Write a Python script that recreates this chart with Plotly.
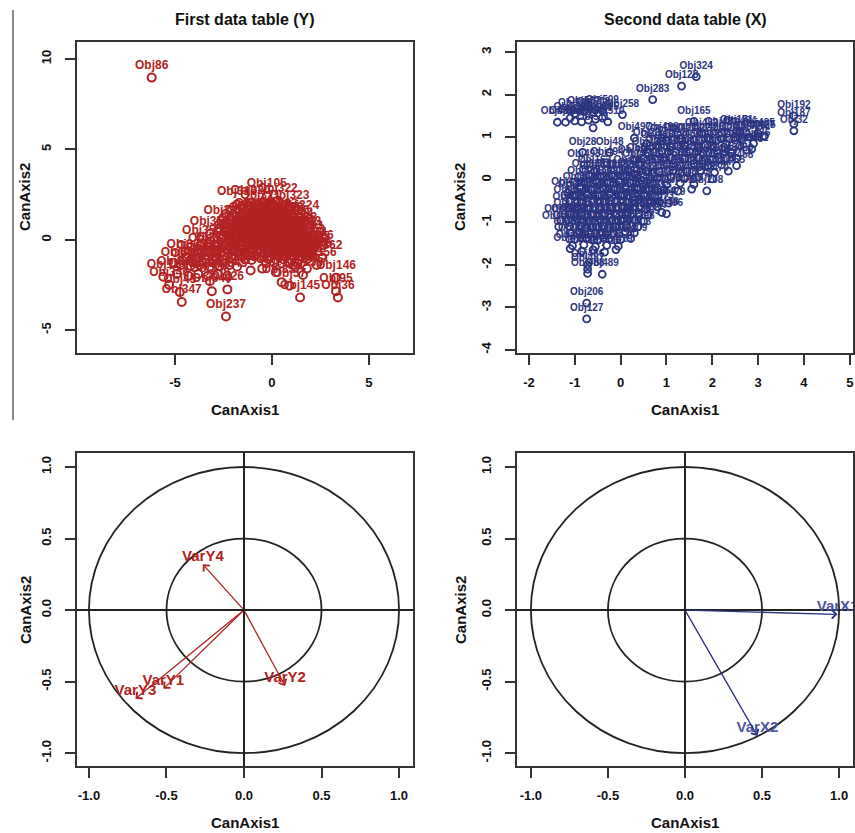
import plotly.graph_objects as go

RED = "#B22222"
BLUE = "#2B3480"
FONT = "Liberation Sans, Arial, sans-serif"

# ---------------- First data table (Y) ----------------
red_named_lab = ["Obj86", "Obj105", "Obj237", "Obj146", "Obj95", "Obj36", "Obj145", "Obj26", "Obj45", "Obj12", "Obj57"]
red_named_x = [-6.2, -0.27, -2.37, 3.3, 3.3, 3.4, 1.45, -2.3, -4.75, -5.6, 0.9]
red_named_y = [8.97, 2.42, -4.25, -2.1, -2.85, -3.2, -3.2, -2.75, -2.9, -2.05, -2.55]

red_x = [
    -0.9, -0.5, -0.1, 0.3,
    -1.2, -0.8, -0.4, 0.0, 0.4, 0.6,
    -1.4, -1.0, -0.6, -0.2, 0.2, 0.6, 0.9,
    -1.6, -1.2, -0.8, -0.4, 0.0, 0.4, 0.8, 1.1,
    -1.75, -1.35, -0.95, -0.55, -0.15, 0.25, 0.65, 1.05, 1.3,
    -1.85, -1.45, -1.05, -0.65, -0.25, 0.15, 0.55, 0.95, 1.3, 1.5,
    -1.95, -1.55, -1.15, -0.75, -0.35, 0.05, 0.45, 0.85, 1.25, 1.6,
    -2.0, -1.6, -1.2, -0.8, -0.4, 0.0, 0.4, 0.8, 1.2, 1.7,
    -2.0, -1.6, -1.2, -0.8, -0.4, 0.0, 0.4, 0.8, 1.2, 1.55, 1.8,
    -1.9, -1.5, -1.1, -0.7, -0.3, 0.1, 0.5, 0.9, 1.3, 1.65, 1.9,
    -1.8, -1.4, -1.0, -0.6, -0.2, 0.2, 0.6, 1.0, 1.4, 1.75, 2.0,
    -1.6, -1.2, -0.1, 0.3, 0.7, 1.1, 1.5, 1.85, 2.1,
    -1.4, -1.05, -0.2, 0.2, 0.6, 1.0, 1.4, 1.8,
    -0.3, 0.1, 0.5, 0.9, 1.3,
    -1.8, -1.1, -0.6, 0.3, 0.9, 1.4, -2.5, 2.15,
    -4.4, -3.9, -3.4, -2.9, -2.5, -2.1,
    -4.7, -4.2, -3.7, -3.2, -2.7, -2.2, -1.8,
    -4.9, -4.3, -3.8, -3.3, -2.8, -2.3,
    -5.3, -4.65, -3.2, -3.1, -3.6, -3.2, -2.9, -3.3,
    1.2, 1.8, 2.3, 0.5, 1.6, 0.2, -0.5, -1.1, 2.6,
]
red_y = [
    1.3, 1.33, 1.28, 1.31,
    1.1, 1.13, 1.08, 1.12, 1.09, 1.11,
    0.9, 0.92, 0.88, 0.91, 0.89, 0.93, 0.9,
    0.7, 0.68, 0.72, 0.69, 0.71, 0.73, 0.67, 0.7,
    0.5, 0.52, 0.48, 0.51, 0.49, 0.53, 0.47, 0.5, 0.52,
    0.3, 0.28, 0.32, 0.29, 0.31, 0.27, 0.33, 0.3, 0.28, 0.31,
    0.1, 0.12, 0.08, 0.11, 0.09, 0.13, 0.07, 0.1, 0.12, 0.09,
    -0.1, -0.08, -0.12, -0.09, -0.11, -0.07, -0.13, -0.1, -0.08, -0.11,
    -0.3, -0.32, -0.28, -0.31, -0.29, -0.33, -0.27, -0.3, -0.32, -0.29, -0.31,
    -0.5, -0.48, -0.52, -0.49, -0.51, -0.47, -0.53, -0.5, -0.48, -0.51, -0.49,
    -0.7, -0.72, -0.68, -0.71, -0.69, -0.73, -0.67, -0.7, -0.72, -0.69, -0.71,
    -0.9, -0.88, -0.92, -0.89, -0.91, -0.87, -0.93, -0.9, -0.88,
    -1.1, -1.12, -1.08, -1.11, -1.09, -1.13, -1.1, -1.08,
    -1.3, -1.28, -1.32, -1.29, -1.31,
    1.95, 2.05, 1.75, 2.15, 1.75, 1.2, 0.9, -0.45,
    -0.95, -1.0, -1.1, -1.05, -0.9, -1.0,
    -1.4, -1.45, -1.4, -1.5, -1.45, -1.4, -1.5,
    -1.9, -2.0, -1.9, -2.0, -1.9, -2.0,
    -2.5, -3.45, -2.3, -2.85, -0.2, 0.33, -0.55, -0.6,
    -1.5, -1.6, -1.4, -2.35, -1.95, -1.8, -1.6, -1.7, -1.0,
]

# ---------------- Second data table (X) ----------------
blue_named_lab = ["Obj324", "Obj128", "Obj283", "Obj258", "Obj165", "Obj171", "Obj5", "Obj192", "Obj187", "Obj32",
                  "Obj23", "Obj28", "Obj48", "Obj162", "Obj13", "Obj208", "Obj206", "Obj127"]
blue_named_x = [1.65, 1.33, 0.7, 0.04, 1.6, 2.53, 3.14, 3.78, 3.78, 3.78,
                0.57, -0.83, -0.24, -0.57, 0.15, 1.88, -0.74, -0.74]
blue_named_y = [2.42, 2.2, 1.88, 1.53, 1.37, 1.15, 1.03, 1.5, 1.31, 1.15,
                0.85, 0.64, 0.64, 0.2, 0.2, -0.26, -2.9, -3.27]

blue_x = [
    -0.7, -0.45, -0.2, 0.05, 0.3,
    -0.8, -0.55, -0.3, -0.05, 0.2, 0.45,
    -0.9, -0.65, -0.4, -0.15, 0.1, 0.35, 0.6,
    -1.0, -0.75, -0.5, -0.25, 0.0, 0.25, 0.5, 0.75,
    -1.1, -0.85, -0.6, -0.35, -0.1, 0.15, 0.4, 0.65, 0.85,
    -1.12, -0.95, -0.7, -0.45, -0.2, 0.05, 0.3, 0.55, 0.8,
    -1.1, -0.85, -0.6, -0.35, -0.1, 0.15, 0.4, 0.6,
    -1.15, -0.95, -0.7, -0.45, -0.2, 0.05, 0.3, 0.5,
    -1.12, -0.87, -0.62, -0.37, -0.12, 0.13, 0.38,
    -1.1, -0.9, -0.65, -0.4, -0.15, 0.1, 0.3,
    -1.0, -0.75, -0.5, -0.25, 0.0, 0.22,
    -1.05, -0.8, -0.55, -0.3, -0.05,
    -1.1, -0.85, -0.6, -0.35, -0.1,
    1.0, 1.3, 1.6, 1.9, 2.2, 2.5, 2.8, 3.0,
    0.8, 1.1, 1.4, 1.7, 2.0, 2.3, 2.6, 2.9,
    0.6, 0.9, 1.2, 1.5, 1.8, 2.1, 2.4, 2.75,
    0.5, 0.8, 1.1, 1.4, 1.7, 2.0, 2.3,
    0.4, 0.7, 1.0, 1.3, 1.6, 1.9, 2.2, 2.53,
    0.55, 0.85, 1.15, 1.45, 1.75, 2.05, 2.35,
    0.8, 1.1, 1.4, 1.7, 2.0,
    0.7, 1.0, 1.3, 1.6,
    0.95, 1.25, 1.55,
    0.9, 1.05, 2.53, 2.86, 1.77, 2.2, 2.6, 3.0, -0.72, -0.72, -0.72, -0.4, -1.35, -1.3, -1.15, -0.8, -0.3, 0.3, 1.0,
    0.3, 0.9,
    -1.38, -1.2, -1.0, -0.85, -0.7, -0.55, -0.4, -1.0, -0.8, -0.6, -0.4, -0.28, -0.6, -1.1,
]
blue_y = [
    0.12, 0.08, 0.11, 0.09, 0.13,
    -0.05, -0.03, -0.07, -0.04, -0.06, -0.02,
    -0.18, -0.22, -0.19, -0.21, -0.17, -0.2, -0.23,
    -0.35, -0.33, -0.37, -0.34, -0.36, -0.32, -0.35, -0.38,
    -0.49, -0.52, -0.48, -0.51, -0.5, -0.53, -0.47, -0.5, -0.52,
    -0.65, -0.63, -0.67, -0.64, -0.66, -0.62, -0.65, -0.68, -0.64,
    -0.8, -0.78, -0.82, -0.79, -0.81, -0.77, -0.8, -0.83,
    -0.95, -0.93, -0.97, -0.94, -0.96, -0.92, -0.95, -0.98,
    -1.1, -1.08, -1.12, -1.09, -1.11, -1.07, -1.1,
    -1.25, -1.23, -1.27, -1.24, -1.26, -1.22, -1.25,
    -1.4, -1.38, -1.42, -1.39, -1.41, -1.38,
    -1.55, -1.53, -1.57, -1.54, -1.56,
    -1.62, -1.68, -1.65, -1.7, -1.64,
    0.93, 0.97, 0.95, 0.98, 0.96, 0.99, 1.0, 1.02,
    0.8, 0.78, 0.82, 0.79, 0.81, 0.83, 0.8, 0.85,
    0.63, 0.67, 0.64, 0.66, 0.62, 0.68, 0.65, 0.7,
    0.5, 0.48, 0.52, 0.49, 0.51, 0.47, 0.5,
    0.36, 0.33, 0.37, 0.34, 0.38, 0.32, 0.35, 0.33,
    0.2, 0.18, 0.22, 0.19, 0.21, 0.17, 0.2,
    0.04, 0.07, 0.03, 0.06, 0.02,
    -0.1, -0.12, -0.08, -0.11,
    -0.24, -0.27, -0.22,
    -0.77, -0.55, 0.5, 0.72, 1.08, 1.1, 1.12, 1.08, -2.0, -2.1, -2.2, -2.22, -1.1, -0.95, -0.3, 0.35, 0.4, 0.45, -0.8,
    0.98, 0.98,
    1.35, 1.35, 1.38, 1.36, 1.4, 1.42, 1.45, 1.55, 1.6, 1.58, 1.62, 1.36, 1.22, 1.45,
]

# ---------------- Correlation circles ----------------
vary_lab = ["VarY1", "VarY2", "VarY3", "VarY4"]
vary_x = [-0.52, 0.265, -0.70, -0.265]
vary_y = [-0.55, -0.53, -0.62, 0.32]

varx_lab = ["VarX1", "VarX2"]
varx_x = [0.99, 0.47]
varx_y = [-0.03, -0.88]

circle_radii = [1.0, 0.5]

# tick labels
tl_x_ticks = [-5, 0, 5]
tl_y_ticks = [-5, 0, 5, 10]
tr_x_ticks = [-2, -1, 0, 1, 2, 3, 4, 5]
tr_y_ticks = [-4, -3, -2, -1, 0, 1, 2, 3]
circ_ticks = [-1.0, -0.5, 0.0, 0.5, 1.0]


def fmt(v, dec=0):
    return f"{v:.{dec}f}"


def auto_labels(n, start):
    return [f"Obj{start + i}" for i in range(n)]


fig = go.Figure()

tl_lab = auto_labels(len(red_x), 200)
fig.add_trace(go.Scatter(
    x=red_x + red_named_x, y=red_y + red_named_y, text=tl_lab + red_named_lab,
    mode="markers+text", textposition="top center",
    marker=dict(symbol="circle-open", size=8, color=RED, line=dict(width=2.0, color=RED)),
    textfont=dict(family=FONT, size=12, color=RED, weight="bold"),
    xaxis="x", yaxis="y", showlegend=False, cliponaxis=False,
))

tr_lab = auto_labels(len(blue_x), 330)
fig.add_trace(go.Scatter(
    x=blue_x + blue_named_x, y=blue_y + blue_named_y, text=tr_lab + blue_named_lab,
    mode="markers+text", textposition="top center",
    marker=dict(symbol="circle-open", size=7, color=BLUE, line=dict(width=1.8, color=BLUE)),
    textfont=dict(family=FONT, size=10, color=BLUE, weight="bold"),
    xaxis="x2", yaxis="y2", showlegend=False, cliponaxis=False,
))

fig.add_trace(go.Scatter(
    x=vary_x, y=vary_y, text=vary_lab, mode="text", textposition="top center",
    textfont=dict(family=FONT, size=15, color=RED, weight="bold"),
    xaxis="x3", yaxis="y3", showlegend=False, cliponaxis=True,
))
fig.add_trace(go.Scatter(
    x=varx_x, y=varx_y, text=varx_lab, mode="text", textposition="top center",
    textfont=dict(family=FONT, size=15, color="#4A55A0", weight="bold"),
    xaxis="x4", yaxis="y4", showlegend=False, cliponaxis=True,
))

annotations = []
for xx, yy in zip(vary_x, vary_y):
    annotations.append(dict(x=xx, y=yy, ax=0, ay=0, xref="x3", yref="y3", axref="x3", ayref="y3",
                            showarrow=True, arrowhead=4, arrowsize=1.3, arrowwidth=1.3,
                            arrowcolor=RED, text=""))
for xx, yy in zip(varx_x, varx_y):
    annotations.append(dict(x=xx, y=yy, ax=0, ay=0, xref="x4", yref="y4", axref="x4", ayref="y4",
                            showarrow=True, arrowhead=4, arrowsize=1.3, arrowwidth=1.3,
                            arrowcolor=BLUE, text=""))

shapes = []
for ax_, ay_ in [("x3", "y3"), ("x4", "y4")]:
    for r in circle_radii:
        shapes.append(dict(type="circle", xref=ax_, yref=ay_, x0=-r, y0=-r, x1=r, y1=r,
                           line=dict(color="#222222", width=1.8), layer="below"))

W, H = 855, 833


def px(v):
    return v / W


def py(v):
    return 1 - v / H


shapes.append(dict(type="line", xref="paper", yref="paper", x0=px(13), x1=px(13),
                   y0=py(10), y1=py(420), line=dict(color="#8a8a8a", width=2)))

title_font = dict(family=FONT, size=16, color="#111111")
axis_font = dict(family=FONT, size=15, color="#111111")


def label(text, x, y, font, angle=0):
    return dict(text=text, x=px(x), y=py(y), xref="paper", yref="paper", xanchor="center",
                yanchor="middle", showarrow=False, font=font, textangle=angle)


annotations += [
    label("<b>First data table (Y)</b>", 245, 20, title_font),
    label("<b>Second data table (X)</b>", 685, 20, title_font),
]
for cx in [245, 685]:
    for cy in [410, 822]:
        annotations.append(label("<b>CanAxis1</b>", cx, cy, axis_font))
for cx in [25, 460]:
    for cy in [197, 610]:
        annotations.append(label("<b>CanAxis2</b>", cx, cy, axis_font, -90))

tick_font = dict(family=FONT, size=13, color="#111111")


def axis(domain, rng, ticks, labels, anchor, is_y=False, zero=False):
    d = dict(domain=domain, range=rng, anchor=anchor, tickmode="array", tickvals=ticks, ticktext=labels,
             showgrid=False, showline=True, mirror=True, linecolor="#333333", linewidth=2,
             ticks="outside", ticklen=10, tickwidth=2, tickcolor="#333333",
             tickfont=tick_font, zeroline=zero, zerolinecolor="#222222", zerolinewidth=1.8,
             ticklabelstandoff=6, ticklabeloverflow="allow", fixedrange=True)
    if is_y:
        d["tickangle"] = -90
        d["ticklabelstandoff"] = 9
    return d


def bold(lbls):
    return [f"<b>{s}</b>" for s in lbls]


dom_x_left = [px(77), px(413)]
dom_x_right = [px(517), px(853)]
dom_y_top = [py(353), py(42)]
dom_y_bot = [py(766), py(453)]

fig.update_layout(
    width=W, height=H, margin=dict(l=0, r=0, t=0, b=0),
    paper_bgcolor="white", plot_bgcolor="white",
    xaxis=axis(dom_x_left, [-10.05, 7.27], tl_x_ticks, bold([fmt(v) for v in tl_x_ticks]), "y"),
    yaxis=axis(dom_y_top, [-6.27, 10.94], tl_y_ticks, bold([fmt(v) for v in tl_y_ticks]), "x", is_y=True),
    xaxis2=axis(dom_x_right, [-2.26, 5.07], tr_x_ticks, bold([fmt(v) for v in tr_x_ticks]), "y2"),
    yaxis2=axis(dom_y_top, [-4.07, 3.235], tr_y_ticks, bold([fmt(v) for v in tr_y_ticks]), "x2", is_y=True),
    xaxis3=axis(dom_x_left, [-1.077, 1.09], circ_ticks, bold([fmt(v, 1) for v in circ_ticks]), "y3", zero=True),
    yaxis3=axis(dom_y_bot, [-1.09, 1.098], circ_ticks, bold([fmt(v, 1) for v in circ_ticks]), "x3", is_y=True, zero=True),
    xaxis4=axis(dom_x_right, [-1.09, 1.09], circ_ticks, bold([fmt(v, 1) for v in circ_ticks]), "y4", zero=True),
    yaxis4=axis(dom_y_bot, [-1.09, 1.098], circ_ticks, bold([fmt(v, 1) for v in circ_ticks]), "x4", is_y=True, zero=True),
    annotations=annotations, shapes=shapes,
)

fig.write_html(
    "out.html",
    config={"displayModeBar": False},
    post_script="document.body.style.margin='0';document.documentElement.style.overflow='hidden';",
)
